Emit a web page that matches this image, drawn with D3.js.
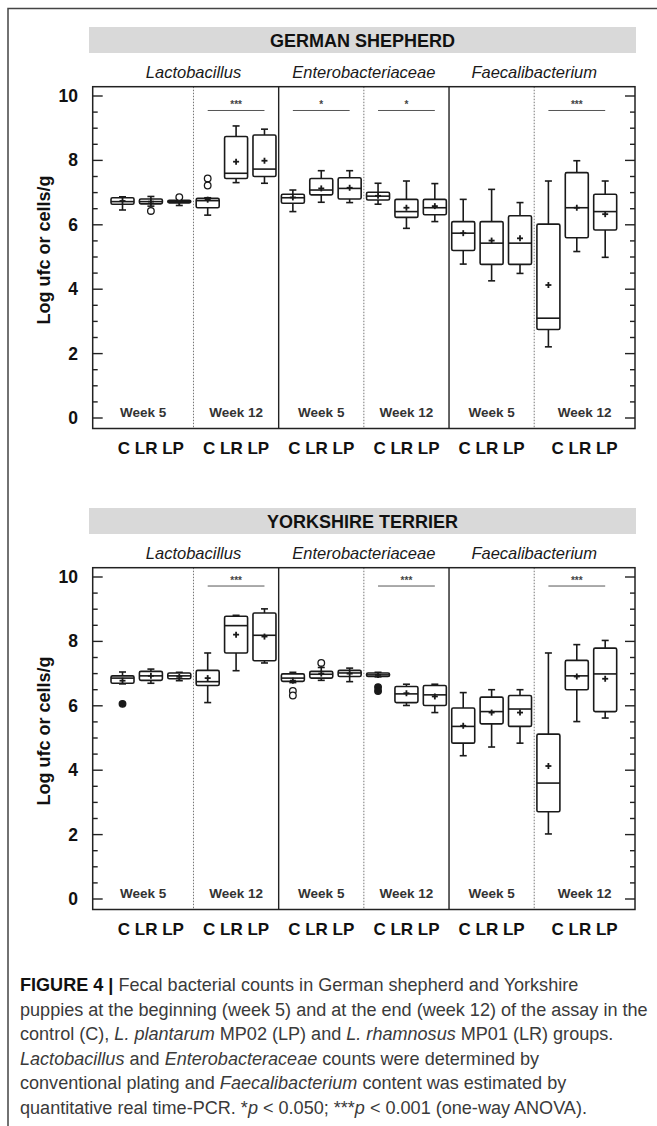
<!DOCTYPE html>
<html><head><meta charset="utf-8">
<script src="https://cdn.jsdelivr.net/npm/d3@7"></script>
<style>
html,body{margin:0;padding:0;background:#fff;}
svg{display:block;}
text{font-family:"Liberation Sans",Arial,sans-serif;}
</style></head>
<body>
<svg id="chart" width="657" height="1126"></svg>
<script>
// ---------- data ----------
const breeds = ["GERMAN SHEPHERD", "YORKSHIRE TERRIER"];
const taxa = ["Lactobacillus", "Enterobacteriaceae", "Faecalibacterium"];
const weeks = ["Week 5", "Week 12", "Week 5", "Week 12", "Week 5", "Week 12"];
const groups = ["C", "LR", "LP"];
const yTicks = [0, 2, 4, 6, 8, 10];
const yTitle = "Log ufc or cells/g";

// German shepherd: 18 boxes (taxon x week x group)
const gsLow  = [6.46,6.58,6.60, 6.30,7.31,7.29, 6.41,6.70,6.69, 6.64,5.89,6.10, 4.78,4.26,4.49, 2.21,5.17,4.99];
const gsQ1   = [6.64,6.65,6.68, 6.53,7.44,7.50, 6.67,6.93,6.80, 6.77,6.23,6.31, 5.20,4.77,4.77, 2.75,5.60,5.84];
const gsMed  = [6.72,6.72,6.72, 6.75,7.60,7.73, 6.84,7.08,7.13, 6.89,6.41,6.53, 5.74,5.43,5.43, 3.10,6.53,6.41];
const gsQ3   = [6.84,6.80,6.76, 6.82,8.74,8.79, 6.95,7.44,7.46, 7.01,6.79,6.79, 6.10,6.10,6.28, 6.02,7.62,6.95];
const gsHigh = [6.87,6.88,6.82, 6.84,9.07,8.97, 7.08,7.68,7.68, 7.29,7.36,7.28, 6.79,7.10,6.69, 7.36,7.99,7.36];
const gsMean = [6.74,6.72,6.72, 6.78,7.96,7.99, 6.85,7.13,7.15, 6.90,6.53,6.58, 5.74,5.51,5.58, 4.13,6.53,6.33];
const gsOutIdx  = [1, 2, 3, 3];
const gsOutVal  = [6.43, 6.86, 7.22, 7.44];
const gsOutFill = [false, false, false, false];
const gsSigGroup = [1, 2, 3, 5];
const gsSigLabel = ["***", "*", "*", "***"];

// Yorkshire terrier
const ytLow  = [6.68,6.70,6.78, 6.10,7.09,7.33, 6.72,6.79,6.75, 6.90,6.01,5.79, 4.45,4.72,4.84, 2.02,5.51,5.62];
const ytQ1   = [6.70,6.79,6.84, 6.63,7.64,7.40, 6.76,6.86,6.91, 6.91,6.10,6.01, 4.84,5.44,5.36, 2.71,6.50,5.82];
const ytMed  = [6.86,6.93,6.93, 6.75,8.49,8.19, 6.86,6.98,7.02, 6.96,6.37,6.34, 5.36,5.82,5.90, 3.60,6.93,6.99];
const ytQ3   = [6.93,7.07,7.02, 7.10,8.78,8.88, 6.99,7.07,7.10, 7.02,6.60,6.63, 5.93,6.27,6.32, 5.12,7.41,7.79];
const ytHigh = [7.05,7.14,7.04, 7.64,8.81,9.01, 7.04,7.19,7.17, 7.04,6.67,6.67, 6.41,6.50,6.50, 7.64,7.90,8.03];
const ytMean = [6.78,6.93,6.90, 6.86,8.21,8.15, 6.78,7.00,7.00, 6.96,6.39,6.29, 5.38,5.79,5.79, 4.13,6.91,6.84];
const ytOutIdx  = [0, 6, 6, 7, 9, 9];
const ytOutVal  = [6.06, 6.46, 6.32, 7.33, 6.58, 6.46];
const ytOutFill = [true, false, false, false, true, true];
const ytSigGroup = [1, 3, 5];
const ytSigLabel = ["***", "***", "***"];

const captionLines = [
  [{t:"FIGURE 4 | ", b:1}, {t:"Fecal bacterial counts in German shepherd and Yorkshire"}],
  [{t:"puppies at the beginning (week 5) and at the end (week 12) of the assay in the"}],
  [{t:"control (C), "}, {t:"L. plantarum", i:1}, {t:" MP02 (LP) and "}, {t:"L. rhamnosus", i:1}, {t:" MP01 (LR) groups."}],
  [{t:"Lactobacillus", i:1}, {t:" and "}, {t:"Enterobacteraceae", i:1}, {t:" counts were determined by"}],
  [{t:"conventional plating and "}, {t:"Faecalibacterium", i:1}, {t:" content was estimated by"}],
  [{t:"quantitative real time-PCR. *"}, {t:"p", i:1}, {t:" < 0.050; ***"}, {t:"p", i:1}, {t:" < 0.001 (one-way ANOVA)."}]
];

// ---------- drawing ----------
const svg = d3.select("#chart");
const panels = [
  {name: breeds[0], low: gsLow, q1: gsQ1, med: gsMed, q3: gsQ3, high: gsHigh, mean: gsMean,
   oi: gsOutIdx, ov: gsOutVal, of: gsOutFill, sg: gsSigGroup, sl: gsSigLabel},
  {name: breeds[1], low: ytLow, q1: ytQ1, med: ytMed, q3: ytQ3, high: ytHigh, mean: ytMean,
   oi: ytOutIdx, ov: ytOutVal, of: ytOutFill, sg: ytSigGroup, sl: ytSigLabel}
];

// outer frame (top + left)
svg.append("path").attr("d","M8,1126 L8,8.5 L657,8.5").attr("fill","none").attr("stroke","#444").attr("stroke-width",1.5);

const xL = 92.7, xR = 635;
const x = d3.scaleLinear().domain([-1.05, 18.05]).range([xL, xR]);
const nBox = taxa.length * 2 * groups.length;
const boxW = 23, capW = 7;

panels.forEach((P, pi) => {
  const dy = pi * 481;
  const g = svg.append("g").attr("transform", `translate(0,${dy})`);
  const y = d3.scaleLinear().domain([0, 10]).range([418, 96]);
  const yTop = 86.7, yBot = 428.5;

  // header bar
  g.append("rect").attr("x", 89).attr("y", 27).attr("width", 547).attr("height", 26).attr("fill", "#d9d9d9");
  g.append("text").attr("x", 362.5).attr("y", 46.5).attr("text-anchor","middle")
    .attr("font-size", 18).attr("font-weight","bold").attr("fill","#111").text(P.name);

  // taxon subheaders
  taxa.forEach((t, ti) => {
    g.append("text").attr("x", x(ti*6 + 2.5)).attr("y", 78).attr("text-anchor","middle")
      .attr("font-size", 16.5).attr("font-style","italic").attr("fill","#1a1a1a").text(t);
  });

  // dividers
  for (let k = 1; k < 6; k++) {
    const xv = x(k*3 - 0.5);
    const solid = k % 2 === 0;
    g.append("line").attr("x1", xv).attr("x2", xv).attr("y1", yTop).attr("y2", yBot)
      .attr("stroke", solid ? "#222" : "#666").attr("stroke-width", solid ? 1.4 : 0.9)
      .attr("stroke-dasharray", solid ? null : "1.5,1.5");
  }

  // frame
  g.append("rect").attr("x", xL).attr("y", yTop).attr("width", xR - xL).attr("height", yBot - yTop)
    .attr("fill","none").attr("stroke","#222").attr("stroke-width",1.5);

  // ticks (left inward, right inward)
  const minor = d3.range(0, 10.01, 0.5);
  minor.forEach(v => {
    const major = Math.abs(v % 2) < 1e-9;
    const len = major ? 10 : 5;
    g.append("line").attr("x1", xL).attr("x2", xL + len).attr("y1", y(v)).attr("y2", y(v))
      .attr("stroke","#222").attr("stroke-width",1.4);
    g.append("line").attr("x1", xR).attr("x2", xR - len).attr("y1", y(v)).attr("y2", y(v))
      .attr("stroke","#222").attr("stroke-width",1.4);
  });
  yTicks.forEach(v => {
    g.append("text").attr("x", 78).attr("y", y(v) + 6).attr("text-anchor","end")
      .attr("font-size", 17.5).attr("font-weight","bold").attr("fill","#111").text(v);
  });
  g.append("text").attr("transform", `translate(50,250) rotate(-90)`).attr("text-anchor","middle")
    .attr("font-size", 18).attr("font-weight","bold").attr("fill","#111").text(yTitle);

  // week labels & group labels
  weeks.forEach((w, wi) => {
    const a = wi === 0 ? xL : x(wi*3 - 0.5);
    const b = wi === 5 ? xR : x(wi*3 + 2.5);
    g.append("text").attr("x", (a + b) / 2).attr("y", 417).attr("text-anchor","middle")
      .attr("font-size", 13.5).attr("font-weight","bold").attr("fill","#333").text(w);
    g.append("text").attr("x", wi === 5 ? (a + b) / 2 : x(wi*3 + 1)).attr("y", 454).attr("text-anchor","middle")
      .attr("font-size", 17).attr("font-weight","bold").attr("fill","#111").text(groups.join(" "));
  });

  // significance bars
  P.sg.forEach((gi, k) => {
    const yl = y(pi === 0 ? 9.55 : 9.72);
    g.append("line").attr("x1", x(gi*3)).attr("x2", x(gi*3 + 2)).attr("y1", yl).attr("y2", yl)
      .attr("stroke","#555").attr("stroke-width",1);
    g.append("text").attr("x", x(gi*3 + 1)).attr("y", yl - 2).attr("text-anchor","middle")
      .attr("font-size", 10).attr("font-weight","bold").attr("fill","#444").text(P.sl[k]);
  });

  // boxes
  for (let i = 0; i < nBox; i++) {
    const cx = x(i);
    const bg = g.append("g").attr("stroke","#1a1a1a").attr("fill","none").attr("stroke-width",1.6);
    bg.append("line").attr("x1", cx).attr("x2", cx).attr("y1", y(P.q3[i])).attr("y2", y(P.high[i]));
    bg.append("line").attr("x1", cx).attr("x2", cx).attr("y1", y(P.q1[i])).attr("y2", y(P.low[i]));
    bg.append("line").attr("x1", cx - capW/2).attr("x2", cx + capW/2).attr("y1", y(P.high[i])).attr("y2", y(P.high[i]));
    bg.append("line").attr("x1", cx - capW/2).attr("x2", cx + capW/2).attr("y1", y(P.low[i])).attr("y2", y(P.low[i]));
    bg.append("rect").attr("x", cx - boxW/2).attr("y", y(P.q3[i])).attr("width", boxW)
      .attr("height", Math.max(1, y(P.q1[i]) - y(P.q3[i]))).attr("rx", 1.5).attr("fill","#fff");
    bg.append("line").attr("x1", cx - boxW/2).attr("x2", cx + boxW/2).attr("y1", y(P.med[i])).attr("y2", y(P.med[i]));
    const my = y(P.mean[i]);
    bg.append("line").attr("x1", cx - 3).attr("x2", cx + 3).attr("y1", my).attr("y2", my).attr("stroke-width",1.8);
    bg.append("line").attr("x1", cx).attr("x2", cx).attr("y1", my - 3).attr("y2", my + 3).attr("stroke-width",1.8);
  }
  // outliers
  P.oi.forEach((bi, k) => {
    g.append("circle").attr("cx", x(bi)).attr("cy", y(P.ov[k])).attr("r", 3.3)
      .attr("fill", P.of[k] ? "#1a1a1a" : "#fff").attr("stroke","#1a1a1a").attr("stroke-width",1.3);
  });
});

// caption
const cap = svg.append("g");
const capSize = 16;
const lines = captionLines.map((segs, li) => {
  const t = cap.append("text").attr("x", 20).attr("y", 991 + li * 24.5)
    .attr("font-size", capSize).attr("fill", "#3a3a3a");
  segs.forEach(s => {
    t.append("tspan").attr("font-weight", s.b ? "bold" : null).attr("font-style", s.i ? "italic" : null)
      .attr("fill", s.b ? "#111" : null).text(s.t);
  });
  return t;
});
const w2 = lines[1].node().getComputedTextLength();
const fs = capSize * 628 / w2;
lines.forEach(t => t.attr("font-size", fs));
</script>
</body></html>
